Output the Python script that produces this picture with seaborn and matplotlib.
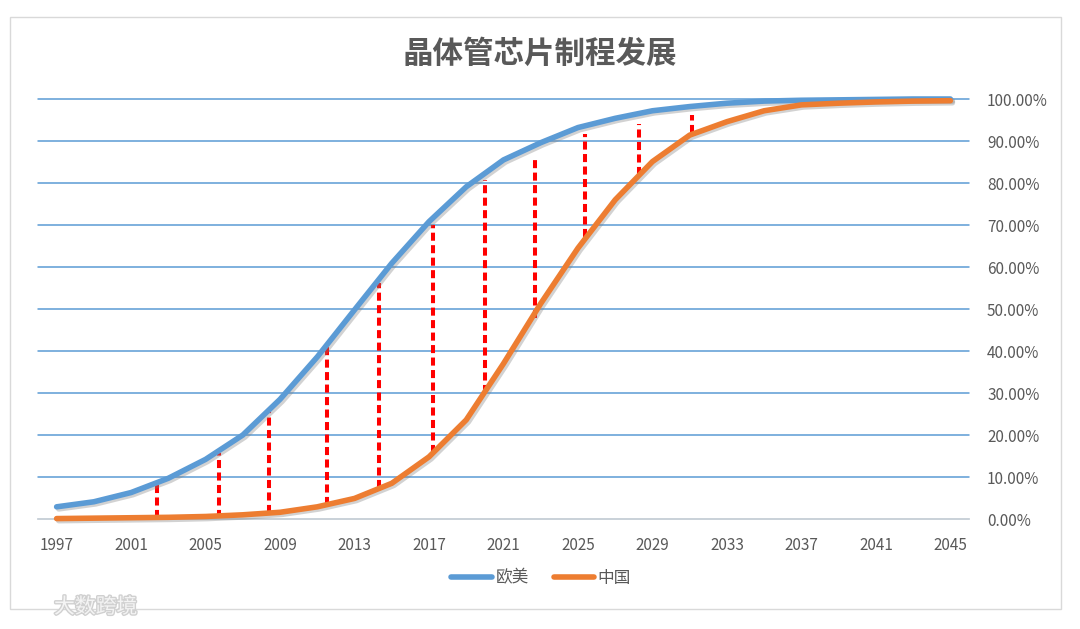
import matplotlib
matplotlib.use('Agg')
import matplotlib.pyplot as plt
import matplotlib.patheffects as pe
import pandas as pd
import seaborn as sns

# data (percent)
years = [1997, 1999, 2001, 2003, 2005, 2007, 2009, 2011, 2013, 2015, 2017, 2019, 2021,
         2023, 2025, 2027, 2029, 2031, 2033, 2035, 2037, 2039, 2041, 2043, 2045]
west = [2.9, 4.1, 6.3, 9.7, 14.2, 20.0, 28.5, 38.6, 49.8, 60.9, 70.8, 79.1, 85.5,
        89.6, 93.2, 95.4, 97.2, 98.2, 99.0, 99.5, 99.7, 99.8, 99.9, 100.0, 100.0]
china = [0.1, 0.2, 0.3, 0.4, 0.6, 1.0, 1.6, 2.9, 4.9, 8.5, 14.8, 23.6, 37.0,
         51.3, 64.5, 76.0, 85.1, 91.4, 94.6, 97.2, 98.6, 99.0, 99.3, 99.5, 99.6]
series_names = ['欧美', '中国']

# red dashed gap markers
gap_x = [2002.4, 2005.7, 2008.4, 2011.5, 2014.3, 2017.2, 2020.0, 2022.7, 2025.4, 2028.3, 2031.1]
gap_low = [0.2, 0.3, 1.5, 3.3, 7.5, 15.6, 29.9, 47.8, 67.2, 81.9, 91.8]
gap_high = [8.5, 15.6, 26.3, 41.0, 56.1, 70.0, 80.7, 86.3, 91.6, 94.0, 96.2]

xtick_years = [1997, 2001, 2005, 2009, 2013, 2017, 2021, 2025, 2029, 2033, 2037, 2041, 2045]
ytick_vals = [0, 10, 20, 30, 40, 50, 60, 70, 80, 90, 100]

df = pd.DataFrame({
    'year': years * 2,
    'value': west + china,
    'region': [series_names[0]] * len(years) + [series_names[1]] * len(years),
})

sns.set_theme(style='white')
plt.rcParams['font.family'] = ['Noto Sans CJK SC', 'DejaVu Sans']

text_gray = '#595959'
fig = plt.figure(figsize=(10.8, 6.29), dpi=100)
ax = fig.add_axes([38 / 1080, 1 - 519 / 629, 931 / 1080, 420 / 629])

ax.vlines(gap_x, gap_low, gap_high, colors='#FF0000', linestyles=(0, (2.0, 1.1)),
          linewidth=2.9, zorder=2)

sns.lineplot(data=df, x='year', y='value', hue='region', hue_order=series_names,
             palette=['#5B9BD5', '#ED7D31'], linewidth=4, ax=ax, zorder=3)
for line in ax.get_lines():
    line.set_clip_on(False)
    line.set_solid_capstyle('round')
    line.set_path_effects([pe.SimpleLineShadow(offset=(1.5, -1.5), shadow_color='gray', alpha=0.35),
                           pe.Normal()])

ax.set_xlim(1996, 2046)
ax.set_ylim(0, 100)
ax.set_xticks(xtick_years)
ax.set_xticklabels([str(y) for y in xtick_years], color=text_gray, fontsize=11)
ax.set_yticks(ytick_vals)
ax.set_yticklabels([f'{v:.2f}%' for v in ytick_vals], color=text_gray, fontsize=11)
ax.yaxis.tick_right()
ax.tick_params(axis='y', length=0, pad=13)
ax.tick_params(axis='x', length=0, pad=13)
ax.set_xlabel('')
ax.set_ylabel('')
ax.grid(axis='y', color='#5B9BD5', linewidth=1.1)
for gl in ax.get_ygridlines():
    gl.set_clip_on(False)
ax.set_axisbelow(True)
for s in ['top', 'left', 'right']:
    ax.spines[s].set_visible(False)
ax.spines['bottom'].set_color('#D9D9D9')
ax.spines['bottom'].set_linewidth(1.2)
ax.spines['bottom'].set_zorder(2.5)

handles, labels = ax.get_legend_handles_labels()
ax.get_legend().remove()
leg = fig.legend(handles, labels, loc='center', bbox_to_anchor=(541 / 1080, 1 - 578 / 629),
                 ncol=2, frameon=False, fontsize=12, handlelength=2.45, columnspacing=1.5,
                 handletextpad=0.2)
for t in leg.get_texts():
    t.set_color(text_gray)
for h in leg.legend_handles:
    h.set_linewidth(4)
    h.set_path_effects([])

fig.text(540 / 1080, 1 - 54 / 629, '晶体管芯片制程发展', ha='center', va='center',
         fontsize=22, fontweight='bold', color=text_gray)

# chart area border
fig.patches.append(plt.Rectangle((10 / 1080, 1 - 609 / 629), 1051 / 1080, 592 / 629,
                                 transform=fig.transFigure, fill=False,
                                 edgecolor='#D9D9D9', linewidth=1))

# watermark
fig.text(54 / 1080, 1 - 607 / 629, '大数跨境', ha='left', va='center', fontsize=15,
         color='#F4F4F4',
         path_effects=[pe.withStroke(linewidth=2, foreground='#D0D0D0')])

fig.savefig('out.png', dpi=100)
